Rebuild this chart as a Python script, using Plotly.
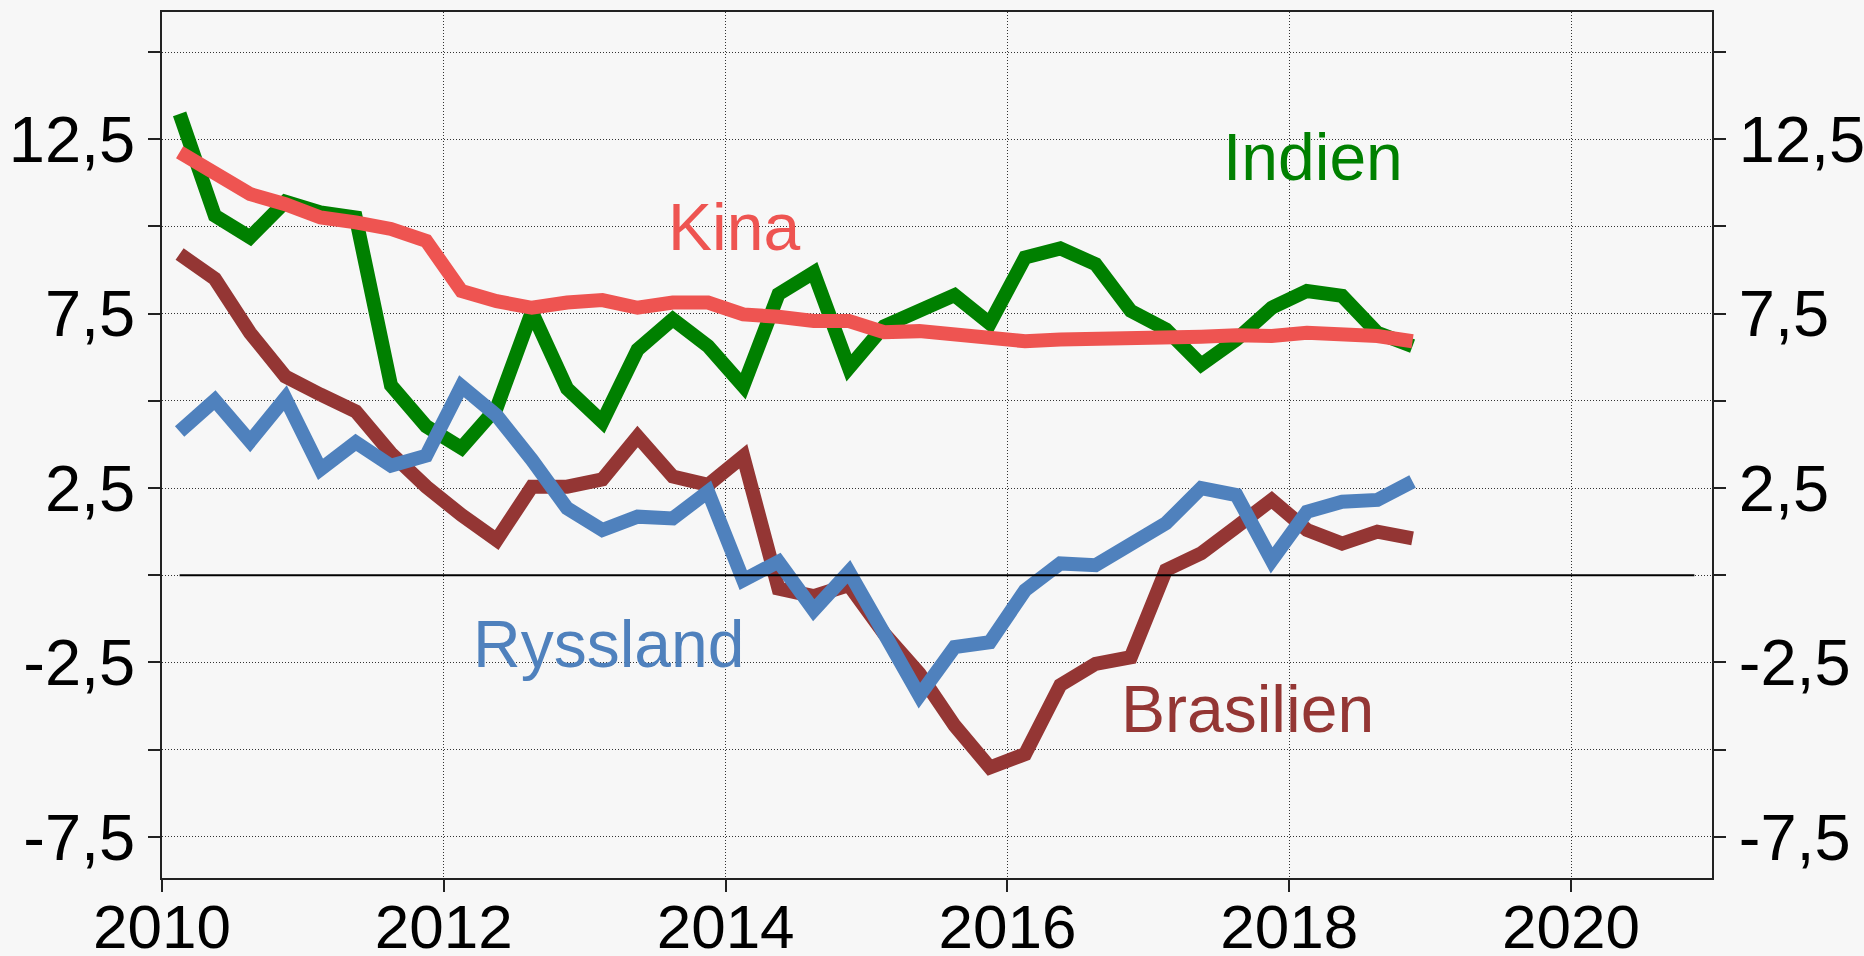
import plotly.graph_objects as go

# Quarterly observations 2010Q1 .. 2018Q4 (plotted at mid-quarter)
years = list(range(2010, 2019))
quarters = [f"{y}Q{q}" for y in years for q in range(1, 5)]

indien = [13.23, 10.31, 9.69, 10.71, 10.40, 10.26, 5.45, 4.27, 3.65, 4.80,
          7.55, 5.35, 4.40, 6.47, 7.34, 6.57, 5.42, 8.06, 8.68, 5.95,
          7.14, 7.58, 8.03, 7.22, 9.11, 9.37, 8.92, 7.58, 7.05, 6.04,
          6.76, 7.67, 8.15, 8.01, 6.95, 6.57]
kina = [12.13, 11.51, 10.93, 10.64, 10.26, 10.12, 9.93, 9.59, 8.15, 7.86,
        7.67, 7.82, 7.89, 7.67, 7.82, 7.82, 7.48, 7.41, 7.29, 7.29,
        6.97, 7.00, 6.88, 6.86, 6.71, 6.76, 6.76, 6.74, 6.83, 6.84,
        6.88, 6.86, 6.95, 6.95, 6.86, 6.71]
brasilien = [9.21, 8.50, 6.95, 5.70, 5.18, 4.70, 3.50, 2.54, 1.73, 1.01,
             2.54, 2.54, 2.75, 3.98, 2.83, 2.59, 3.41, -0.38, -0.60, -0.28,
             -1.67, -2.82, -4.31, -5.51, -5.13, -3.15, -2.54, -2.35, 0.15, 0.63,
             1.39, 2.16, 1.30, 0.91, 1.25, 1.06]
ryssland = [4.12, 5.02, 3.84, 5.08, 3.04, 3.81, 3.14, 3.43, 5.42, 4.58,
            3.31, 1.92, 1.30, 1.68, 1.63, 2.40, -0.14, 0.39, -1.00, 0.10,
            -1.67, -3.45, -2.06, -1.92, -0.43, 0.34, 0.29, 0.91, 1.49, 2.50,
            2.30, 0.43, 1.82, 2.11, 2.16, 2.69]

zero_x = [2010.125, 2020.875]
zero_y = [0, 0]

x_tickvals = [2010, 2012, 2014, 2016, 2018, 2020]
x_ticktext = ["2010", "2012", "2014", "2016", "2018", "2020"]
y_tickvals = [-7.5, -5, -2.5, 0, 2.5, 5, 7.5, 10, 12.5, 15]
y_ticktext = ["-7,5", "", "-2,5", "", "2,5", "", "7,5", "", "12,5", ""]

labels = [
    ("Indien", 2018.17, 12.0, "#008000"),
    ("Kina", 2014.06, 9.99, "#EE5451"),
    ("Ryssland", 2013.17, -1.98, "#4F81BD"),
    ("Brasilien", 2017.70, -3.82, "#943634"),
]

def qx(q):
    y, n = q.split("Q")
    return int(y) + (int(n) - 0.5) / 4

x = [qx(q) for q in quarters]

FONT = "Liberation Sans, Arial, sans-serif"
W = 14
BG = "#F7F7F7"

fig = go.Figure()
fig.add_trace(go.Scatter(x=zero_x, y=zero_y, mode="lines",
                         line=dict(color="black", width=2), yaxis="y2",
                         hoverinfo="skip", showlegend=False))
fig.add_trace(go.Scatter(x=x, y=brasilien, mode="lines", name="Brasilien",
                         line=dict(color="#943634", width=W)))
fig.add_trace(go.Scatter(x=x, y=indien, mode="lines", name="Indien",
                         line=dict(color="#008000", width=W)))
fig.add_trace(go.Scatter(x=x, y=ryssland, mode="lines", name="Ryssland",
                         line=dict(color="#4F81BD", width=W)))
fig.add_trace(go.Scatter(x=x, y=kina, mode="lines", name="Kina",
                         line=dict(color="#EE5451", width=W)))

for text, lx, ly, col in labels:
    fig.add_annotation(x=lx, y=ly, text=text, showarrow=False,
                       xanchor="center", yanchor="middle",
                       font=dict(family=FONT, size=66, color=col))

yr = [-8.68, 16.15]
yaxis_common = dict(
    range=yr, tickmode="array", tickvals=y_tickvals, ticktext=y_ticktext,
    ticks="outside", ticklen=12, tickwidth=1.5, tickcolor="#222",
    tickfont=dict(family=FONT, size=65, color="black"),
    showline=True, linecolor="#222", linewidth=1.5,
    zeroline=False, automargin=False,
)

fig.update_layout(
    width=1864, height=956,
    margin=dict(l=162, r=152, t=12, b=78),
    paper_bgcolor=BG, plot_bgcolor=BG,
    showlegend=False,
    xaxis=dict(range=[2010, 2021.0], tickmode="array", tickvals=x_tickvals,
               ticktext=x_ticktext, ticks="outside", ticklen=12, tickwidth=1.5,
               tickcolor="#222", ticklabelstandoff=-18,
               tickfont=dict(family=FONT, size=62, color="black"),
               showline=True, linecolor="#222", linewidth=1.5, mirror=True,
               showgrid=True, gridcolor="#333", gridwidth=1, griddash="1px,2px",
               zeroline=False, automargin=False),
    yaxis=dict(**yaxis_common, side="left",
               showgrid=True, gridcolor="#333", gridwidth=1, griddash="1px,2px"),
    yaxis2=dict(**yaxis_common, side="right", overlaying="y", showgrid=False),
)

fig.write_html(
    "out.html",
    config={"displayModeBar": False},
    post_script=("document.body.style.margin='0';"
                 "document.body.style.overflow='hidden';"
                 f"document.body.style.background='{BG}';"),
)
